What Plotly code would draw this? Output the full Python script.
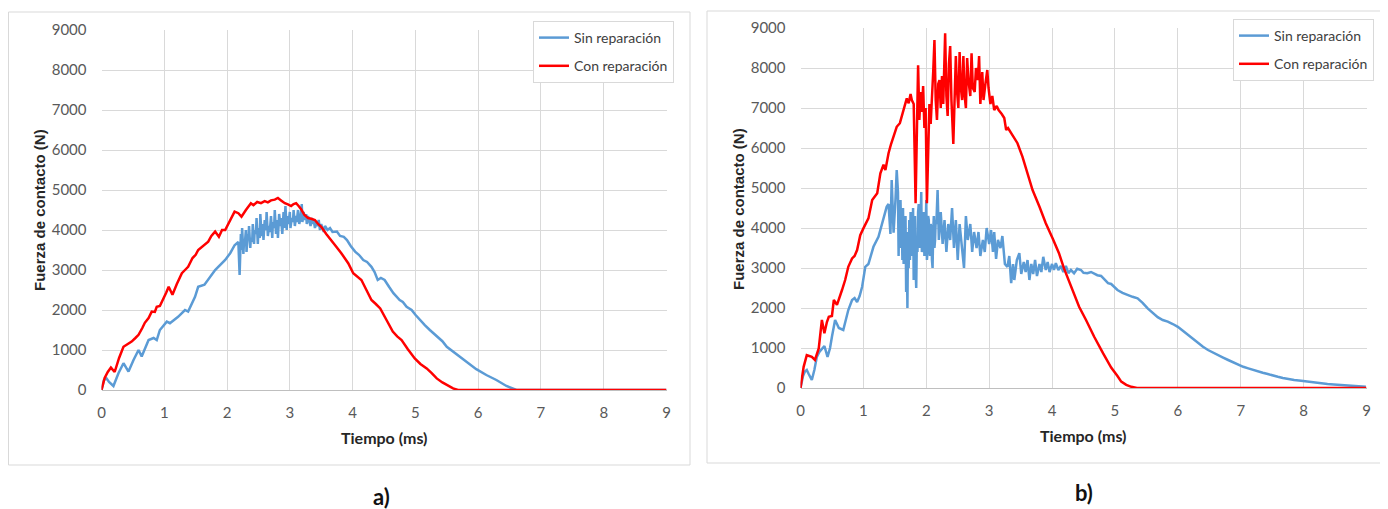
import plotly.graph_objects as go

# ---------------- data ----------------
# Panel a) - Sin reparación
a_sin_t = [0, 0.04, 0.08, 0.12, 0.19, 0.27, 0.35, 0.43, 0.51, 0.59,
           0.64, 0.75, 0.83, 0.88, 0.93, 1.04, 1.09, 1.22, 1.33, 1.38,
           1.49, 1.54, 1.64, 1.72, 1.81, 1.97, 2.05, 2.12, 2.18, 2.20,
           2.21, 2.22, 2.23, 2.24, 2.26, 2.27, 2.28, 2.30, 2.31, 2.33,
           2.34, 2.35, 2.37, 2.38, 2.40, 2.41, 2.43, 2.44, 2.46, 2.47,
           2.49, 2.50, 2.52, 2.53, 2.55, 2.57, 2.58, 2.60, 2.62, 2.63,
           2.65, 2.67, 2.68, 2.70, 2.72, 2.73, 2.75, 2.76, 2.78, 2.80,
           2.81, 2.83, 2.85, 2.86, 2.88, 2.90, 2.91, 2.93, 2.95, 2.96,
           2.98, 3.00, 3.01, 3.03, 3.05, 3.06, 3.08, 3.10, 3.11, 3.13,
           3.15, 3.17, 3.19, 3.20, 3.22, 3.24, 3.26, 3.27, 3.29, 3.31,
           3.33, 3.35, 3.37, 3.38, 3.40, 3.42, 3.44, 3.46, 3.48, 3.50,
           3.52, 3.54, 3.56, 3.60, 3.64, 3.68, 3.75, 3.80, 3.86, 3.91,
           3.97, 4.04, 4.10, 4.17, 4.23, 4.30, 4.35, 4.40, 4.45, 4.51,
           4.58, 4.65, 4.75, 4.80, 4.86, 4.94, 5.00, 5.07, 5.15, 5.23,
           5.36, 5.43, 5.50, 5.63, 5.72, 5.81, 5.97, 6.13, 6.29, 6.45,
           6.61, 9.0]
a_sin_f = [0, 250, 290, 200, 100, 420, 670, 460, 750, 1000,
           840, 1250, 1300, 1250, 1500, 1710, 1670, 1830, 2000, 1960,
           2330, 2580, 2630, 2820, 3000, 3250, 3420, 3620, 3700, 2875,
           3650, 3900, 3500, 4050, 3400, 3700, 3600, 4000, 3450, 3900,
           3750, 4100, 3550, 3800, 3700, 4150, 3650, 4000, 3900, 4300,
           3650, 4050, 3800, 4400, 3850, 4150, 3750, 4250, 4000, 4450,
           3850, 4100, 3950, 4350, 3800, 4200, 4050, 4500, 3900, 4250,
           3800, 4400, 4100, 4300, 3900, 4450, 4050, 4600, 4000, 4350,
           4150, 4450, 4050, 4300, 4200, 4500, 4100, 4350, 4200, 4500,
           4150, 4300, 4650, 4200, 4450, 4250, 4400, 4150, 4350, 4200,
           4100, 4300, 4150, 4250, 4050, 4200, 4100, 4250, 4000, 4150,
           4050, 3950, 4100, 4000, 4050, 3950, 3960, 3850, 3830, 3750,
           3600, 3460, 3380, 3250, 3200, 3080, 2950, 2750, 2800, 2750,
           2580, 2420, 2250, 2200, 2080, 2000, 1880, 1750, 1620, 1500,
           1330, 1220, 1080, 920, 820, 710, 520, 375, 250, 100,
           0, 0]

# Panel a) - Con reparación
a_con_t = [0, 0.05, 0.10, 0.15, 0.21, 0.28, 0.35, 0.42, 0.48, 0.54, 0.59, 0.65, 0.69, 0.75, 0.80,
           0.85, 0.88, 0.93, 0.98, 1.03, 1.07, 1.13, 1.20, 1.28, 1.33, 1.38, 1.45, 1.50, 1.54, 1.62,
           1.70, 1.75, 1.81, 1.87, 1.92, 1.97, 2.02, 2.07, 2.12, 2.18, 2.23, 2.30, 2.38, 2.42, 2.48,
           2.54, 2.60, 2.65, 2.70, 2.76, 2.81, 2.86, 2.92, 2.97, 3.02, 3.06, 3.10, 3.14, 3.18, 3.23,
           3.29, 3.34, 3.40, 3.45, 3.50, 3.58, 3.66, 3.74, 3.82, 3.88, 3.93, 4.01, 4.08, 4.14, 4.22,
           4.30, 4.37, 4.44, 4.54, 4.64, 4.71, 4.78, 4.88, 4.99, 5.08, 5.18, 5.26, 5.34, 5.43, 5.52,
           5.60, 5.68, 9.0]
a_con_f = [0, 300, 450, 560, 450, 800, 1080, 1150, 1210, 1300, 1380, 1550, 1680, 1800, 1960,
           1950, 2080, 2100, 2250, 2430, 2580, 2380, 2650, 2920, 3000, 3080, 3300, 3380, 3500, 3600,
           3710, 3850, 3960, 3830, 4000, 4000, 4150, 4330, 4460, 4420, 4330, 4500, 4670, 4620, 4700,
           4670, 4720, 4690, 4740, 4760, 4800, 4740, 4670, 4640, 4600, 4650, 4670, 4600, 4520, 4380,
           4300, 4280, 4250, 4150, 4080, 3900, 3750, 3580, 3420, 3290, 3170, 2920, 2830, 2750, 2500,
           2250, 2150, 2040, 1750, 1460, 1340, 1250, 1020, 790, 650, 540, 420, 290, 190, 100,
           40, 0, 0]

# Panel b) - Sin reparación
b_sin_t = [0, 0.04, 0.07, 0.10, 0.13, 0.18, 0.22, 0.26, 0.30, 0.34, 0.38, 0.43, 0.47, 0.50, 0.55,
           0.58, 0.61, 0.68, 0.72, 0.76, 0.82, 0.86, 0.90, 0.94, 0.98, 1.03, 1.08, 1.12, 1.16, 1.24,
           1.28, 1.32, 1.37, 1.40, 1.43, 1.45, 1.48, 1.51, 1.53, 1.55,
           1.56, 1.57, 1.58, 1.59, 1.60, 1.61, 1.62, 1.63, 1.64, 1.65, 1.66, 1.67, 1.68, 1.69, 1.70,
           1.71, 1.72, 1.73, 1.74, 1.75, 1.76, 1.77, 1.78, 1.79, 1.80, 1.81, 1.82, 1.83, 1.84, 1.85,
           1.86, 1.87, 1.88, 1.89, 1.90, 1.91, 1.92, 1.93, 1.94, 1.95, 1.96, 1.97, 1.98, 1.99, 2.00,
           2.01, 2.02, 2.03, 2.04, 2.05, 2.06, 2.07, 2.08, 2.09, 2.10, 2.11, 2.12, 2.13, 2.14, 2.15,
           2.16, 2.18, 2.20, 2.23, 2.26, 2.29, 2.32, 2.35, 2.38, 2.41, 2.44, 2.47, 2.50, 2.53, 2.56,
           2.60, 2.63, 2.66, 2.70, 2.73, 2.76, 2.80, 2.83, 2.86, 2.90, 2.93, 2.96, 3.00, 3.03, 3.06,
           3.08, 3.11, 3.14, 3.18, 3.21, 3.25, 3.29, 3.32, 3.35, 3.38, 3.40, 3.44, 3.48, 3.51, 3.55,
           3.58, 3.61, 3.64, 3.67, 3.70, 3.73, 3.76, 3.80, 3.83, 3.86, 3.90, 3.93, 3.96, 4.00, 4.03,
           4.06, 4.10, 4.14, 4.18, 4.22, 4.26, 4.30, 4.35, 4.40, 4.46, 4.50, 4.56, 4.62, 4.67, 4.72,
           4.78, 4.84, 4.89, 4.94, 5.00, 5.04, 5.12, 5.20, 5.28, 5.36, 5.44, 5.52, 5.60, 5.68, 5.76,
           5.84, 5.92, 6.00, 6.08, 6.16, 6.24, 6.32, 6.40, 6.48, 6.56, 6.64, 6.72, 6.80, 6.88, 6.96,
           7.04, 7.12, 7.20, 7.27, 7.35, 7.43, 7.51, 7.59, 7.67, 7.75, 7.85, 7.96, 8.06, 8.17, 8.28,
           8.38, 8.48, 8.59, 8.70, 8.80, 8.90, 8.99]
b_sin_f = [0, 300, 410, 450, 350, 200, 450, 780, 900, 990, 1050, 780, 1000, 1280, 1700,
           1600, 1500, 1450, 1700, 1950, 2200, 2250, 2150, 2300, 2530, 3030, 3100, 3300, 3530, 3780,
           4000, 4200, 4530, 4600, 3850, 5200, 3880, 4700, 5450, 4900,
           3300, 4600, 3500, 4700, 3900, 4400, 3200, 4500, 3100, 4200, 3500, 4300, 2400, 3600, 2000,
           3900, 3000, 4200, 3200, 4400, 3600, 4100, 3300, 4500, 2700, 3800, 4300, 3000, 2500, 3700,
           3400, 4400, 4600, 3500, 3700, 4200, 4900, 3400, 3500, 4300, 4400, 3300, 3600, 4000, 4700,
           3200, 3400, 4300, 4200, 3500, 3300, 4100, 4000, 3200, 3000, 3900, 4300, 3500, 3700, 4200,
           4100, 4950, 3700, 4400, 3600, 4200, 3400, 4100, 3700, 4500, 3500, 4200, 3200, 4100, 3600,
           3000, 4300, 3700, 4100, 3400, 3900, 3500, 3900, 3300, 3700, 3400, 4000, 3600, 3950, 3400,
           3900, 3230, 3700, 3500, 3800, 3100, 3030, 3300, 2620, 3100, 2700, 3200, 3370, 2850, 3150,
           2900, 3200, 2700, 3100, 2850, 3200, 2800, 3100, 2900, 3280, 2950, 3150, 2900, 3100, 2950,
           3120, 2950, 3050, 2900, 3050, 2870, 2950, 2870, 2980, 2950, 2880, 2870, 2900, 2860, 2820,
           2800, 2700, 2620, 2600, 2500, 2450, 2380, 2320, 2280, 2240, 2130, 1990, 1870, 1770, 1700,
           1660, 1600, 1530, 1430, 1330, 1220, 1120, 1030, 950, 880, 830, 760, 700, 640, 580,
           530, 490, 450, 410, 380, 350, 310, 280, 250, 225, 200, 180, 160, 130, 115,
           100, 88, 75, 62, 50, 40, 30]

# Panel b) - Con reparación
b_con_t = [0, 0.05, 0.10, 0.15, 0.18, 0.23, 0.29, 0.34, 0.38, 0.42, 0.45, 0.50, 0.53, 0.58, 0.62,
           0.66, 0.71, 0.76, 0.82, 0.86, 0.90, 0.95, 1.00, 1.04, 1.08, 1.14, 1.18, 1.22, 1.27, 1.32,
           1.35, 1.40, 1.44, 1.48, 1.53, 1.58, 1.64, 1.69, 1.72, 1.75, 1.77, 1.80, 1.83, 1.85, 1.87,
           1.89, 1.91, 1.93, 1.95, 1.97, 1.99, 2.01, 2.03, 2.05, 2.07, 2.09, 2.11, 2.13, 2.15, 2.17,
           2.19, 2.21, 2.23, 2.25, 2.27, 2.30, 2.32, 2.34, 2.36, 2.38, 2.40, 2.43, 2.45, 2.47, 2.49,
           2.51, 2.53, 2.55, 2.57, 2.59, 2.61, 2.63, 2.65, 2.67, 2.70, 2.72, 2.74, 2.77, 2.79, 2.82,
           2.84, 2.86, 2.89, 2.91, 2.94, 2.97, 2.99, 3.02, 3.05, 3.08, 3.12, 3.15, 3.20, 3.24, 3.27,
           3.30, 3.35, 3.40, 3.45, 3.53, 3.61, 3.69, 3.80, 3.90, 4.01, 4.11, 4.19, 4.30, 4.43, 4.54,
           4.67, 4.81, 4.94, 5.04, 5.10, 5.18, 5.26, 5.35, 9.0]
b_con_f = [0, 530, 820, 800, 780, 700, 990, 1700, 1370, 1650, 1780, 1800, 2200, 2080, 2250,
           2450, 2700, 3030, 3240, 3300, 3450, 3820, 3990, 4100, 4240, 4700, 4800, 4870, 5370, 5580,
           5450, 5870, 6100, 6320, 6530, 6620, 6950, 7240, 7120, 7350, 7200, 7100, 4620, 6300, 8070,
           6700, 7400, 6900, 7550, 6500, 7000, 4620, 6000, 7100, 6600, 7500, 7900, 8700, 7200, 6700,
           7600, 7700, 7000, 7800, 7100, 8870, 7300, 6800, 8100, 8550, 7200, 6100, 7600, 8300, 7400,
           7000, 8400, 7500, 7200, 8300, 7300, 7000, 8250, 7700, 7300, 8370, 7500, 7400, 8000, 7700,
           8300, 7100, 7900, 7200, 7600, 7950, 7500, 7100, 7300, 6950, 7050, 6950, 6850, 6750, 6450,
           6500, 6370, 6250, 6120, 5780, 5370, 4950, 4530, 4120, 3740, 3370, 2990, 2530, 2030, 1700,
           1280, 870, 510, 300, 160, 80, 30, 0, 0]

x_ticks = [0, 1, 2, 3, 4, 5, 6, 7, 8, 9]
y_ticks = [0, 1000, 2000, 3000, 4000, 5000, 6000, 7000, 8000, 9000]
series_names = ["Sin reparación", "Con reparación"]
panel_labels = ["a)", "b)"]
x_title = "Tiempo (ms)"
y_title = "Fuerza de contacto (N)"

# ---------------- figure ----------------
OFF = 8                      # the page body adds an 8px margin
W, H = 1388 - OFF, 509 - OFF
BLUE = "#5b9bd5"
RED = "#ff0000"
GRID = "#d9d9d9"
TICKC = "#595959"
TICKFONT = dict(family="Lato, Open Sans, sans-serif", size=15, color=TICKC)


def px(x):
    return (x - OFF) / W


def py(y):
    return 1 - (y - OFF) / H


fig = go.Figure()

panels = [
    dict(sin=(a_sin_t, a_sin_f), con=(a_con_t, a_con_f), xa="x", ya="y", leg="legend"),
    dict(sin=(b_sin_t, b_sin_f), con=(b_con_t, b_con_f), xa="x2", ya="y2", leg="legend2"),
]
for i, p in enumerate(panels):
    fig.add_trace(go.Scatter(x=p["sin"][0], y=p["sin"][1], mode="lines", name=series_names[0],
                             line=dict(color=BLUE, width=2.5), xaxis=p["xa"], yaxis=p["ya"],
                             legend=p["leg"], legendgroup=f"s{i}"))
    fig.add_trace(go.Scatter(x=p["con"][0], y=p["con"][1], mode="lines", name=series_names[1],
                             line=dict(color=RED, width=2.5), xaxis=p["xa"], yaxis=p["ya"],
                             legend=p["leg"], legendgroup=f"c{i}"))

axis_common_x = dict(range=[0, 9], tickvals=x_ticks, showgrid=True, gridcolor=GRID, gridwidth=1,
                     zeroline=False, showline=True, linecolor="#bfbfbf", linewidth=1,
                     tickfont=TICKFONT, ticks="", ticklabelstandoff=9, fixedrange=True,
                     automargin=False)
axis_common_y = dict(range=[0, 9000], tickvals=y_ticks, showgrid=True, gridcolor=GRID, gridwidth=1,
                     zeroline=False, showline=False, tickfont=TICKFONT, ticks="",
                     ticklabelstandoff=14, fixedrange=True, automargin=False)

legend_common = dict(bordercolor=GRID, borderwidth=1, bgcolor="white",
                     font=dict(family="Lato, Open Sans, sans-serif", size=14, color="#404040"),
                     xanchor="left", yanchor="top", tracegroupgap=7, traceorder="grouped",
                     itemclick=False, itemdoubleclick=False)

fig.update_layout(
    width=W, height=H,
    margin=dict(l=0, r=0, t=0, b=0, pad=0, autoexpand=False),
    paper_bgcolor="white", plot_bgcolor="white",
    xaxis=dict(domain=[px(101.5), px(666.5)], anchor="y", **axis_common_x),
    yaxis=dict(domain=[py(390), py(30)], anchor="x", **axis_common_y),
    xaxis2=dict(domain=[px(800.5), px(1366.5)], anchor="y2", **axis_common_x),
    yaxis2=dict(domain=[py(388), py(28)], anchor="x2", **axis_common_y),
    legend=dict(x=px(533), y=py(21), **legend_common),
    legend2=dict(x=px(1233), y=py(19), **legend_common),
    showlegend=True,
)

# outer frames
fig.add_shape(type="rect", xref="paper", yref="paper", x0=px(8.5), x1=px(690), y0=py(465), y1=py(12),
              line=dict(color=GRID, width=1), layer="below")
fig.add_shape(type="rect", xref="paper", yref="paper", x0=px(707), x1=px(1387), y0=py(463), y1=py(11),
              line=dict(color=GRID, width=1), layer="below")

TITLEFONT_Y = dict(family="Liberation Sans, Arial, sans-serif", size=15, color="#262626")
TITLEFONT_X = dict(family="Lato, Open Sans, sans-serif", size=16, color="#262626")
LABFONT = dict(family="Lato, Open Sans, sans-serif", size=22, color="#111111")

for cx, cy, yt_x, yt_y, lx, ly, lab in [(384, 437, 39, 210, 381, 496, panel_labels[0]),
                                          (1083, 435, 739, 209, 1084, 492, panel_labels[1])]:
    fig.add_annotation(text=f"<b>{x_title}</b>", xref="paper", yref="paper", x=px(cx), y=py(cy),
                       xanchor="center", yanchor="middle", showarrow=False, font=TITLEFONT_X)
    fig.add_annotation(text=f"<b>{y_title}</b>", xref="paper", yref="paper", x=px(yt_x), y=py(yt_y),
                       xanchor="center", yanchor="middle", showarrow=False, textangle=-90,
                       font=TITLEFONT_Y)
    fig.add_annotation(text=f"<b>{lab}</b>", xref="paper", yref="paper", x=px(lx), y=py(ly),
                       xanchor="center", yanchor="middle", showarrow=False, font=LABFONT)

fig.write_html("out.html")
